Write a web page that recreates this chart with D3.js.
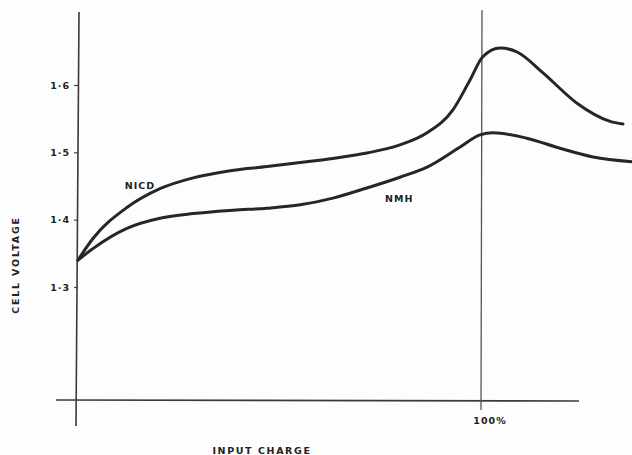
<!DOCTYPE html>
<html>
<head>
<meta charset="utf-8">
<script src="https://cdn.jsdelivr.net/npm/d3@7"></script>
<style>
  html, body { margin: 0; padding: 0; background: #fdfdfd; }
  svg { display: block; }
  text { font-family: "DejaVu Sans", sans-serif; font-weight: bold; fill: #222; }
</style>
</head>
<body>
<svg id="chart" width="632" height="455"></svg>
<script>
// Input charge (% of rated capacity) against cell voltage (V)
const nicdCharge  = [0, 3.7, 12.1, 20.3, 28.5, 36.9, 46.8, 55.0, 63.1, 71.5, 79.7, 86.4, 92.8, 97.0, 100.2, 104.5, 108.7, 115.1, 123.5, 131.7, 134.9];
const nicdVoltage = [1.340, 1.372, 1.418, 1.446, 1.462, 1.472, 1.479, 1.485, 1.491, 1.499, 1.511, 1.529, 1.563, 1.607, 1.642, 1.655, 1.649, 1.618, 1.573, 1.546, 1.542];

const nmhCharge  = [0, 3.7, 12.1, 20.3, 28.5, 38.4, 46.8, 55.0, 63.1, 71.5, 79.7, 86.4, 94.6, 99.5, 102.7, 111.1, 119.3, 127.5, 137.1];
const nmhVoltage = [1.340, 1.357, 1.387, 1.402, 1.409, 1.414, 1.417, 1.422, 1.432, 1.447, 1.463, 1.478, 1.508, 1.526, 1.529, 1.521, 1.506, 1.493, 1.486];

const voltageTicks = [1.3, 1.4, 1.5, 1.6];
const voltageTickLabels = ["1·3", "1·4", "1·5", "1·6"];
const chargeMarks = [100];
const chargeMarkLabels = ["100%"];
const seriesNames = ["NICD", "NMH"];

const svg = d3.select("#chart");

const x = d3.scaleLinear().domain([0, 100]).range([78, 482]);
const y = d3.scaleLinear().domain([1.3, 1.6]).range([287, 85]);

const axisY = 400;          // baseline (x axis) position
const ink = "#262626";

// x axis baseline
svg.append("line")
  .attr("x1", 56).attr("x2", 579)
  .attr("y1", axisY).attr("y2", axisY + 1)
  .attr("stroke", "#3a3a3a").attr("stroke-width", 1.6);

// y axis with its ticks
const yAxis = d3.axisLeft(y)
  .tickValues(voltageTicks)
  .tickSize(4)
  .tickPadding(4)
  .tickFormat((d, i) => voltageTickLabels[i]);

const gy = svg.append("g")
  .attr("transform", `translate(${x(0)},0)`)
  .call(yAxis);
gy.select(".domain").remove();
gy.selectAll(".tick line").attr("stroke", "#444").attr("stroke-width", 1.2);
gy.selectAll(".tick text")
  .attr("font-size", 9.5)
  .attr("font-family", "DejaVu Sans, sans-serif")
  .attr("font-weight", "bold")
  .attr("fill", "#222")
  .attr("letter-spacing", 1);

svg.append("line")
  .attr("x1", x(0) + 1).attr("x2", x(0) - 2)
  .attr("y1", 12).attr("y2", 426)
  .attr("stroke", "#3a3a3a").attr("stroke-width", 1.6);

// 100% full-charge marker
chargeMarks.forEach((c, i) => {
  svg.append("line")
    .attr("x1", x(c)).attr("x2", x(c) - 1)
    .attr("y1", 10).attr("y2", 410)
    .attr("stroke", "#555").attr("stroke-width", 1.3);
  svg.append("text")
    .attr("x", x(c) + 8).attr("y", 424)
    .attr("text-anchor", "middle")
    .attr("font-size", 9.5)
    .attr("letter-spacing", 1)
    .text(chargeMarkLabels[i]);
});

// charge curves
const line = d3.line()
  .x(d => x(d[0]))
  .y(d => y(d[1]))
  .curve(d3.curveMonotoneX);

const curves = [
  d3.zip(nicdCharge, nicdVoltage),
  d3.zip(nmhCharge, nmhVoltage)
];

svg.selectAll("path.curve")
  .data(curves)
  .join("path")
  .attr("class", "curve")
  .attr("d", line)
  .attr("fill", "none")
  .attr("stroke", ink)
  .attr("stroke-width", 3)
  .attr("stroke-linecap", "round");

// curve labels
svg.append("text")
  .attr("x", x(11.6)).attr("y", y(1.45) + 3)
  .attr("font-size", 9.5).attr("letter-spacing", 1)
  .text(seriesNames[0]);
svg.append("text")
  .attr("x", x(76)).attr("y", y(1.431) + 3)
  .attr("font-size", 9.5).attr("letter-spacing", 1)
  .text(seriesNames[1]);

// axis titles
svg.append("text")
  .attr("x", 262).attr("y", 454)
  .attr("text-anchor", "middle")
  .attr("font-size", 9.5)
  .attr("letter-spacing", 1.6)
  .text("INPUT CHARGE");

svg.append("text")
  .attr("transform", "translate(19,265) rotate(-90)")
  .attr("text-anchor", "middle")
  .attr("font-size", 9.5)
  .attr("letter-spacing", 1.8)
  .text("CELL VOLTAGE");
</script>
</body>
</html>
